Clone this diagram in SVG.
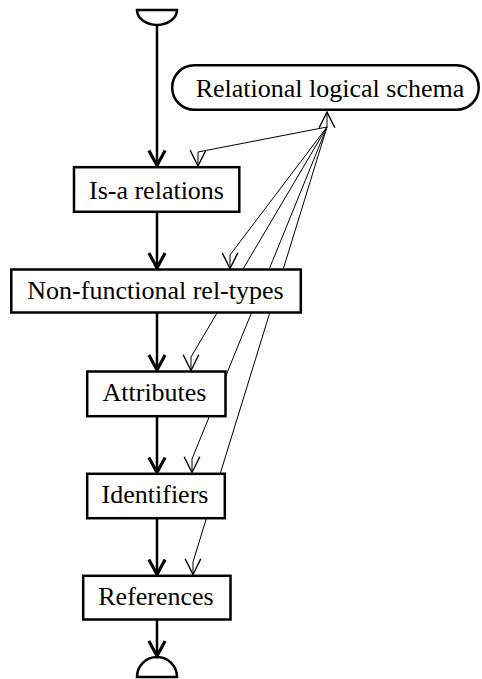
<svg xmlns="http://www.w3.org/2000/svg" width="482" height="679" viewBox="0 0 482 679">
<style>
.box{fill:#fff;stroke:#000;stroke-width:2.5}
.lbl{font-family:"Liberation Serif","Times New Roman",serif;font-size:26px;fill:#000;text-anchor:middle}
.flow{fill:none;stroke:#000;stroke-width:2.5}
.thin{fill:none;stroke:#000;stroke-width:1}
</style>
<defs>
<marker id="thick" markerUnits="userSpaceOnUse" orient="auto" refX="0" refY="0" markerWidth="20" markerHeight="20" viewBox="-14 -8 16 16" overflow="visible">
<path d="M-12,-6.5 L0,0 L-12,6.5" fill="none" stroke="#000" stroke-width="2.5"/>
</marker>
<marker id="open" markerUnits="userSpaceOnUse" orient="auto" refX="0" refY="0" markerWidth="20" markerHeight="20" viewBox="-12 -7 14 14" overflow="visible">
<path d="M-11,-5.5 L0,0 L-11,5.5" fill="none" stroke="#000" stroke-width="1"/>
</marker>
</defs>
<g id="start">
<path d="M137,10 L177,10 A20,15 0 0 1 137,10 Z" fill="#fff" stroke="#000" stroke-width="2.5"/>
</g>
<g id="end">
<path d="M137,677 A20,20 0 0 1 177,677 Z" fill="#fff" stroke="#000" stroke-width="2.5"/>
</g>
<g id="connectors">
<line class="flow" x1="157" y1="25" x2="157" y2="165.5" marker-end="url(#thick)"/>
<line class="flow" x1="157" y1="212" x2="157" y2="268" marker-end="url(#thick)"/>
<line class="flow" x1="157" y1="313" x2="157" y2="370" marker-end="url(#thick)"/>
<line class="flow" x1="157" y1="417" x2="157" y2="472.5" marker-end="url(#thick)"/>
<line class="flow" x1="157" y1="519" x2="157" y2="574.5" marker-end="url(#thick)"/>
<line class="flow" x1="157" y1="620" x2="157" y2="656" marker-end="url(#thick)"/>
<line class="thin" x1="327" y1="127" x2="327" y2="112" marker-end="url(#open)"/>
<polyline class="thin" points="327,127 198,152 198,166" marker-end="url(#open)"/>
<polyline class="thin" points="327,127 230,255 230,268.5" marker-end="url(#open)"/>
<polyline class="thin" points="327,127 191,357 191,370.5" marker-end="url(#open)"/>
<polyline class="thin" points="327,127 192,459 192,472.5" marker-end="url(#open)"/>
<polyline class="thin" points="327,127 193,562 193,574.5" marker-end="url(#open)"/>
</g>
<g id="schema">
<rect class="box" x="172.2" y="65.3" width="306.5" height="44.4" rx="22" ry="22" fill="none"/>
<text class="lbl" x="330" y="97.3">Relational logical schema</text>
</g>
<g id="isa">
<rect class="box" x="74" y="167.2" width="165.3" height="44.6" fill="none"/>
<text class="lbl" x="156.5" y="199.3">Is-a relations</text>
</g>
<g id="nonfunctional">
<rect class="box" x="11.3" y="269.5" width="289.5" height="43" fill="none"/>
<text class="lbl" x="155.5" y="299.3">Non-functional rel-types</text>
</g>
<g id="attributes">
<rect class="box" x="87.2" y="371.5" width="138.3" height="44.7" fill="none"/>
<text class="lbl" x="154.5" y="401">Attributes</text>
</g>
<g id="identifiers">
<rect class="box" x="87.2" y="473.8" width="137.6" height="44.4" fill="none"/>
<text class="lbl" x="155" y="503.3">Identifiers</text>
</g>
<g id="references">
<rect class="box" x="83.2" y="575.8" width="147.3" height="43.7" fill="none"/>
<text class="lbl" x="156" y="605">References</text>
</g>
</svg>
